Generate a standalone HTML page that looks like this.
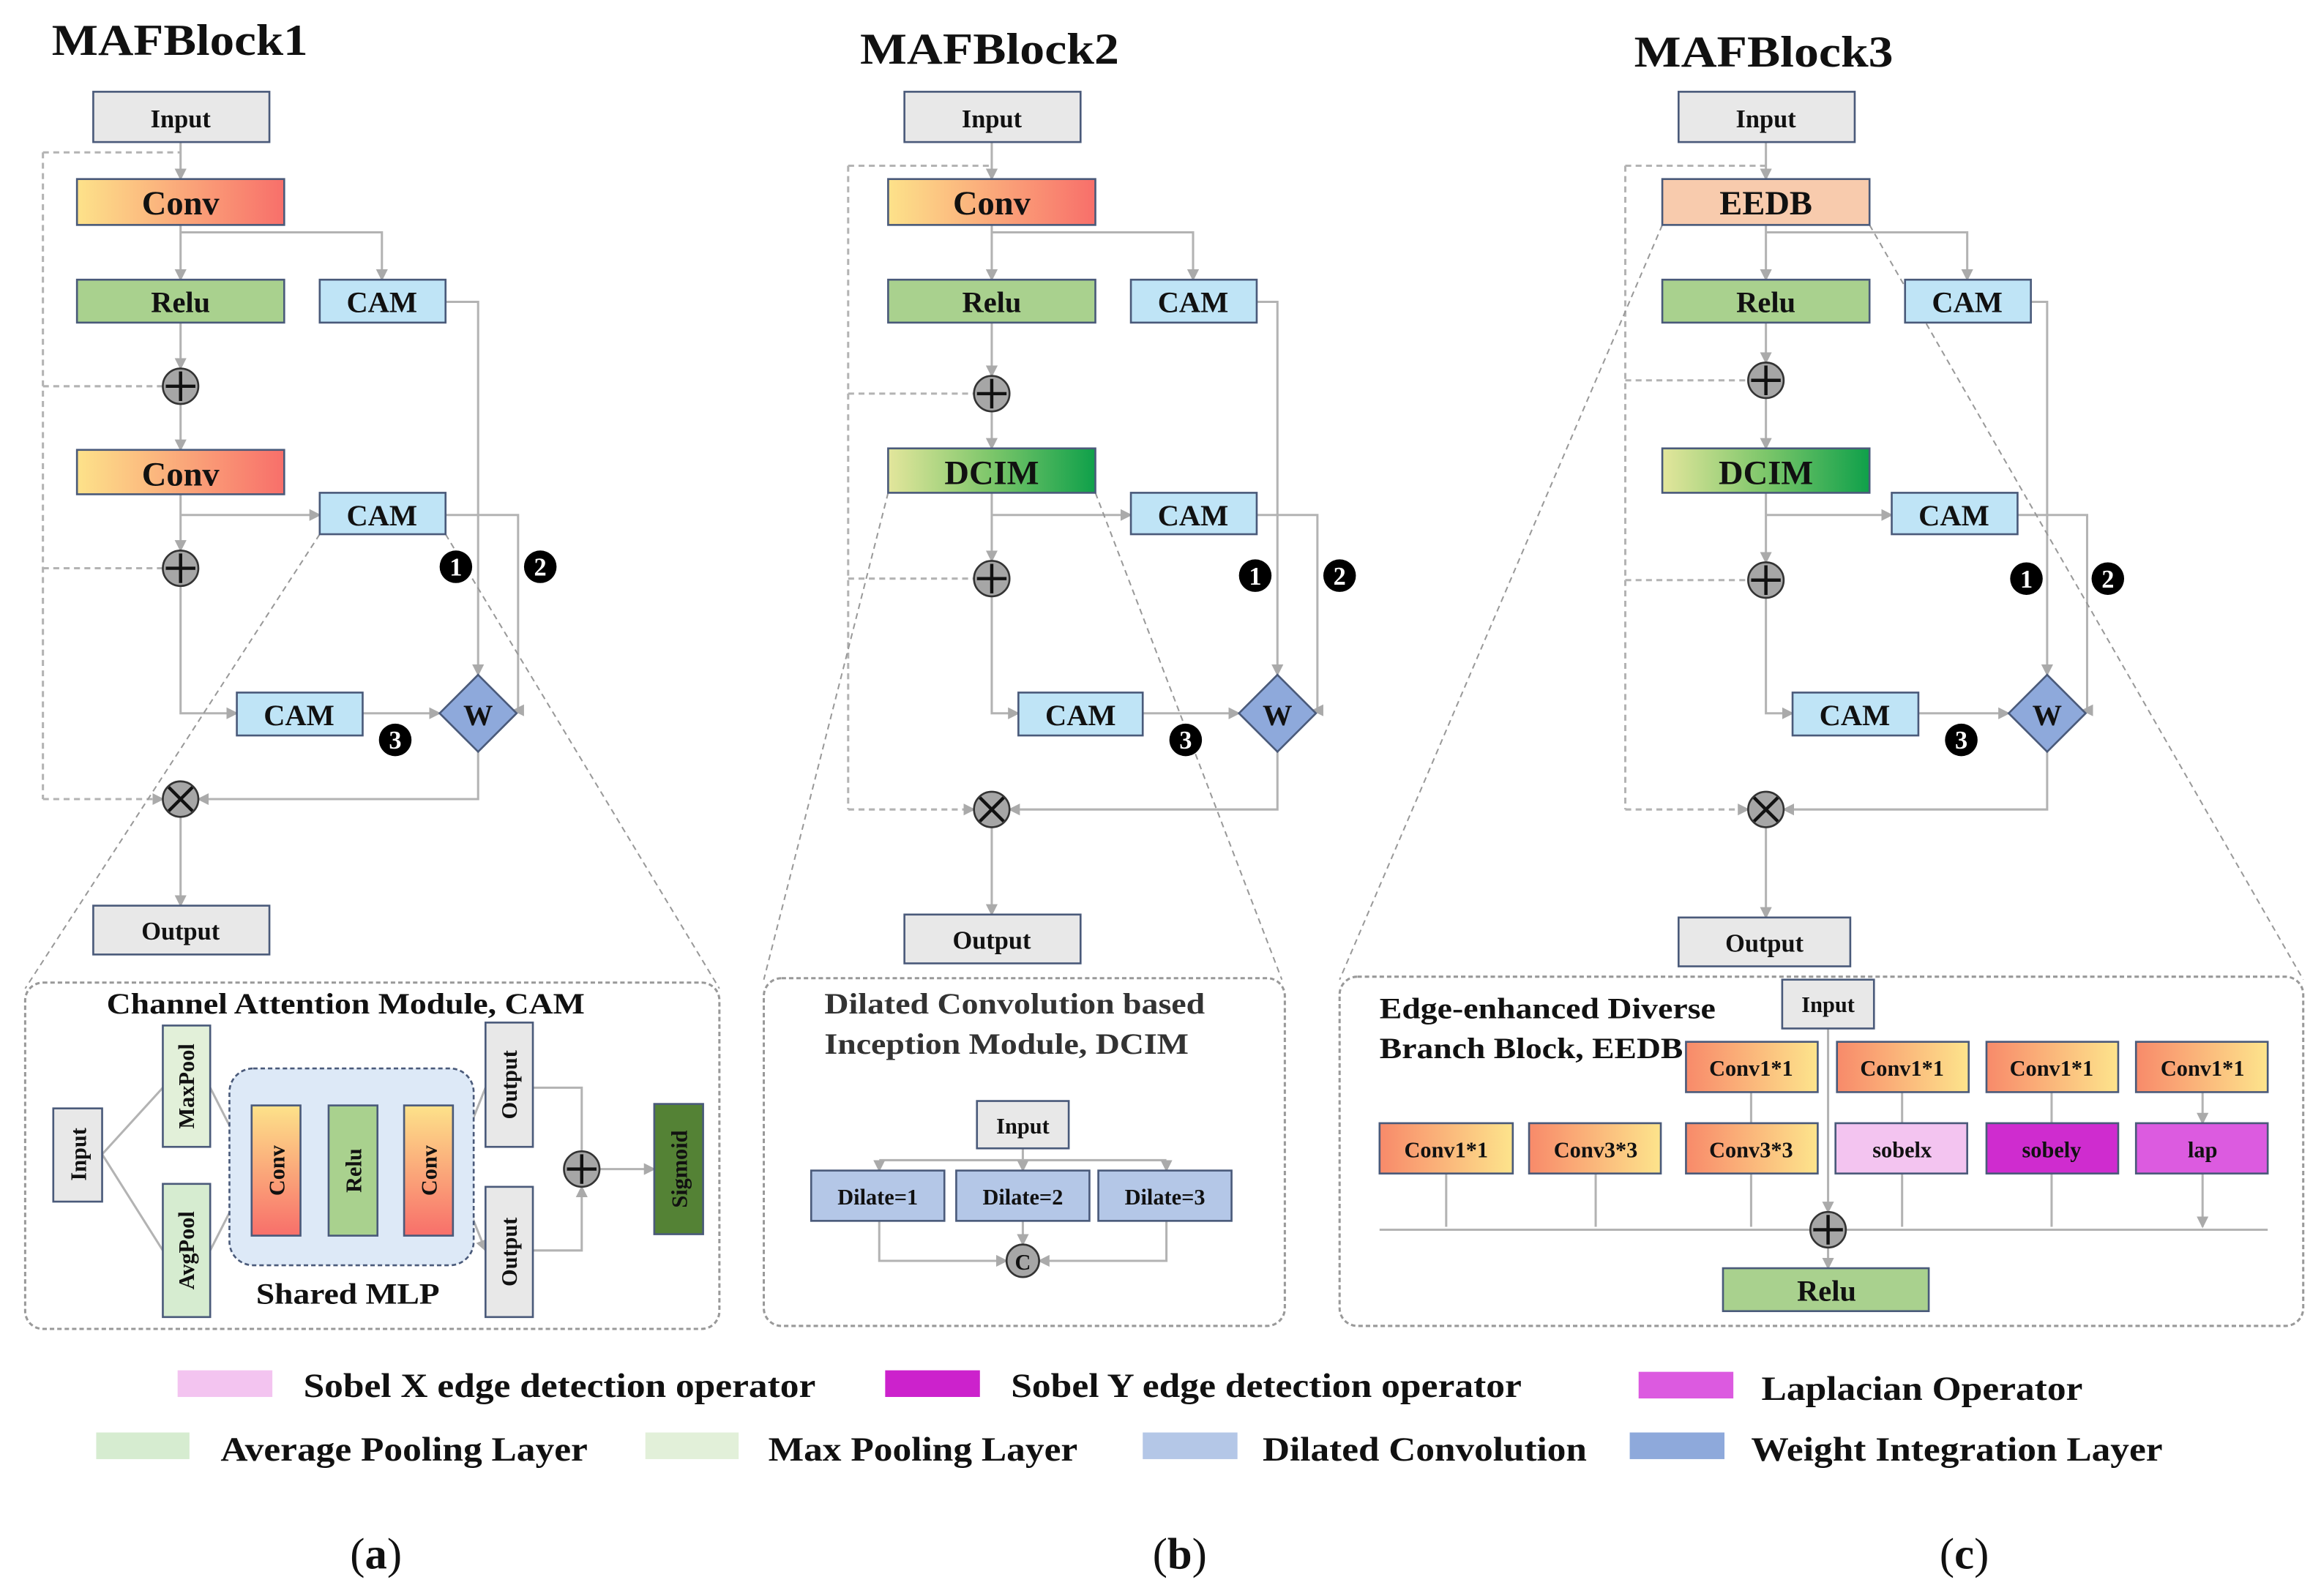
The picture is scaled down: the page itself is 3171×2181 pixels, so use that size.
<!DOCTYPE html>
<html><head><meta charset="utf-8"><style>html,body{margin:0;padding:0;background:#fff}svg{display:block}text{font-family:"Liberation Serif",serif;font-weight:bold;fill:#111}</style></head><body>
<svg width="3171" height="2181" viewBox="0 0 1568 1078.5" preserveAspectRatio="none" xmlns="http://www.w3.org/2000/svg">
<defs>
<linearGradient id="cv" x1="0" x2="1" y1="0" y2="0"><stop offset="0" stop-color="#fde28a"/><stop offset="1" stop-color="#f86f6a"/></linearGradient>
<linearGradient id="cvv" x1="0" x2="0" y1="0" y2="1"><stop offset="0" stop-color="#fde28a"/><stop offset="1" stop-color="#f86f6a"/></linearGradient>
<linearGradient id="cr" x1="0" x2="1" y1="0" y2="0"><stop offset="0" stop-color="#f88a6a"/><stop offset="1" stop-color="#fde48c"/></linearGradient>
<linearGradient id="dc" x1="0" x2="1" y1="0" y2="0"><stop offset="0" stop-color="#e3e69c"/><stop offset="0.5" stop-color="#7cc66a"/><stop offset="1" stop-color="#0fa04a"/></linearGradient>
<marker id="a" markerWidth="8" markerHeight="8" refX="7" refY="4" orient="auto" markerUnits="userSpaceOnUse"><path d="M0,0L8,4L0,8z" fill="#aaa"/></marker>
</defs>
<g fill="none" stroke="#b3b3b3" stroke-width="1.5">
<path d="M122,96V121" marker-end="url(#a)"/>
<path d="M29,103H122M29,103V540M29,261H110M29,384H110M29,540H110" stroke-dasharray="4,3" marker-end="url(#a)"/>
<path d="M122,152V189" marker-end="url(#a)"/><path d="M122,157H258V189" marker-end="url(#a)"/>
<path d="M122,218V249" marker-end="url(#a)"/><path d="M122,273V304" marker-end="url(#a)"/>
<path d="M122,334V372" marker-end="url(#a)"/><path d="M122,348H216" marker-end="url(#a)"/>
<path d="M122,396V482H160" marker-end="url(#a)"/><path d="M245,482H297" marker-end="url(#a)"/>
<path d="M301,204H323V456" marker-end="url(#a)"/><path d="M301,348H350V480L347,480" marker-end="url(#a)"/>
<path d="M323,508V540H134" marker-end="url(#a)"/><path d="M122,552V612" marker-end="url(#a)"/>
<path d="M670,96V121" marker-end="url(#a)"/>
<path d="M573,112H670M573,112V547M573,266H658M573,391H658M573,547H658" stroke-dasharray="4,3" marker-end="url(#a)"/>
<path d="M670,152V189" marker-end="url(#a)"/><path d="M670,157H806V189" marker-end="url(#a)"/>
<path d="M670,218V254" marker-end="url(#a)"/><path d="M670,278V303" marker-end="url(#a)"/>
<path d="M670,333V379" marker-end="url(#a)"/><path d="M670,348H764" marker-end="url(#a)"/>
<path d="M670,403V482H688" marker-end="url(#a)"/><path d="M772,482H837" marker-end="url(#a)"/>
<path d="M849,204H863V456" marker-end="url(#a)"/><path d="M849,348H890V480L887,480" marker-end="url(#a)"/>
<path d="M863,508V547H682" marker-end="url(#a)"/><path d="M670,559V618" marker-end="url(#a)"/>
<path d="M1193,96V121" marker-end="url(#a)"/>
<path d="M1098,112H1193M1098,112V547M1098,257H1181M1098,392H1181M1098,547H1181" stroke-dasharray="4,3" marker-end="url(#a)"/>
<path d="M1193,152V189" marker-end="url(#a)"/><path d="M1193,157H1329V189" marker-end="url(#a)"/>
<path d="M1193,218V245" marker-end="url(#a)"/><path d="M1193,269V303" marker-end="url(#a)"/>
<path d="M1193,333V380" marker-end="url(#a)"/><path d="M1193,348H1278" marker-end="url(#a)"/>
<path d="M1193,404V482H1211" marker-end="url(#a)"/><path d="M1296,482H1357" marker-end="url(#a)"/>
<path d="M1372,204H1383V456" marker-end="url(#a)"/><path d="M1363,348H1410V480L1407,480" marker-end="url(#a)"/>
<path d="M1383,508V547H1205" marker-end="url(#a)"/><path d="M1193,559V620" marker-end="url(#a)"/>
<path d="M216,361L17,668M301,361L486,668M600,333L516,662M740,333L866,662M1123,152L905,662M1263,152L1556,662" stroke="#999" stroke-width="1" stroke-dasharray="4,3"/>
<rect x="17" y="664" width="469" height="234" rx="12" stroke="#999" stroke-dasharray="3,2"/>
<rect x="516" y="661" width="352" height="235" rx="12" stroke="#999" stroke-dasharray="3,2"/>
<rect x="905" y="660" width="651" height="236" rx="12" stroke="#999" stroke-dasharray="3,2"/>
<path d="M69,780L110,735M69,780L110,845M142,735L170,790M142,845L170,790M203,790H222M255,790H273M306,790L328,735M306,790L328,845" marker-end="url(#a)"/>
<path d="M360,735H393V778M360,845H393V802" marker-end="url(#a)"/><path d="M405,790H442" marker-end="url(#a)"/>
<path d="M691,776V784M594,784H788"/><path d="M594,784V791" marker-end="url(#a)"/><path d="M788,784V791" marker-end="url(#a)"/><path d="M691,784V791" marker-end="url(#a)"/>
<path d="M691,825V841" marker-end="url(#a)"/><path d="M594,825V852H680" marker-end="url(#a)"/><path d="M788,825V852H702" marker-end="url(#a)"/>
<path d="M932,831H1532"/>
<path d="M1235,695V819" marker-end="url(#a)"/>
<path d="M1183,738V759M1285,738V759M1386,738V759M1488,738V759" marker-end="url(#a)"/>
<path d="M977,793V829M1078,793V829M1183,793V829M1285,793V829M1386,793V829M1488,793V829" marker-end="url(#a)"/>
<path d="M1235,843V857" marker-end="url(#a)"/>
</g>
<g stroke="#4a5a7a" stroke-width="1.3">
<rect x="63" y="62" width="119" height="34" fill="#e8e8e8"/>
<rect x="52" y="121" width="140" height="31" fill="url(#cv)"/>
<rect x="52" y="189" width="140" height="29" fill="#a9d18e"/>
<rect x="216" y="189" width="85" height="29" fill="#bfe4f6"/>
<rect x="52" y="304" width="140" height="30" fill="url(#cv)"/>
<rect x="216" y="333" width="85" height="28" fill="#bfe4f6"/>
<rect x="160" y="468" width="85" height="29" fill="#bfe4f6"/>
<rect x="63" y="612" width="119" height="33" fill="#e8e8e8"/>
<rect x="611" y="62" width="119" height="34" fill="#e8e8e8"/>
<rect x="600" y="121" width="140" height="31" fill="url(#cv)"/>
<rect x="600" y="189" width="140" height="29" fill="#a9d18e"/>
<rect x="764" y="189" width="85" height="29" fill="#bfe4f6"/>
<rect x="600" y="303" width="140" height="30" fill="url(#dc)"/>
<rect x="764" y="333" width="85" height="28" fill="#bfe4f6"/>
<rect x="688" y="468" width="84" height="29" fill="#bfe4f6"/>
<rect x="611" y="618" width="119" height="33" fill="#e8e8e8"/>
<rect x="1134" y="62" width="119" height="34" fill="#e8e8e8"/>
<rect x="1123" y="121" width="140" height="31" fill="#f8cbad"/>
<rect x="1123" y="189" width="140" height="29" fill="#a9d18e"/>
<rect x="1287" y="189" width="85" height="29" fill="#bfe4f6"/>
<rect x="1123" y="303" width="140" height="30" fill="url(#dc)"/>
<rect x="1278" y="333" width="85" height="28" fill="#bfe4f6"/>
<rect x="1211" y="468" width="85" height="29" fill="#bfe4f6"/>
<rect x="1134" y="620" width="116" height="33" fill="#e8e8e8"/>
<path d="M323,456L349,482L323,508L297,482z" fill="#8ea9db"/>
<path d="M863,456L889,482L863,508L837,482z" fill="#8ea9db"/>
<path d="M1383,456L1409,482L1383,508L1357,482z" fill="#8ea9db"/>
<rect x="36" y="749" width="33" height="63" fill="#e8e8e8"/>
<rect x="110" y="693" width="32" height="82" fill="#e2f0d9"/>
<rect x="110" y="800" width="32" height="90" fill="#d6ecd0"/>
<rect x="155" y="722" width="165" height="133" rx="16" fill="#dde9f7" stroke-dasharray="3,2"/>
<rect x="170" y="747" width="33" height="88" fill="url(#cvv)"/>
<rect x="222" y="747" width="33" height="88" fill="#a9d18e"/>
<rect x="273" y="747" width="33" height="88" fill="url(#cvv)"/>
<rect x="328" y="691" width="32" height="84" fill="#e8e8e8"/>
<rect x="328" y="802" width="32" height="88" fill="#e8e8e8"/>
<rect x="442" y="746" width="33" height="88" fill="#548235"/>
<rect x="660" y="744" width="62" height="32" fill="#e8e8e8"/>
<rect x="548" y="791" width="90" height="34" fill="#b4c7e7"/>
<rect x="646" y="791" width="90" height="34" fill="#b4c7e7"/>
<rect x="742" y="791" width="90" height="34" fill="#b4c7e7"/>
<rect x="1204" y="662" width="62" height="33" fill="#e8e8e8"/>
<rect x="1139" y="704" width="89" height="34" fill="url(#cr)"/>
<rect x="1241" y="704" width="89" height="34" fill="url(#cr)"/>
<rect x="1342" y="704" width="89" height="34" fill="url(#cr)"/>
<rect x="1443" y="704" width="89" height="34" fill="url(#cr)"/>
<rect x="932" y="759" width="90" height="34" fill="url(#cr)"/>
<rect x="1033" y="759" width="89" height="34" fill="url(#cr)"/>
<rect x="1139" y="759" width="89" height="34" fill="url(#cr)"/>
<rect x="1240" y="759" width="89" height="34" fill="#f3c4f0"/>
<rect x="1342" y="759" width="89" height="34" fill="#cf2ccf"/>
<rect x="1443" y="759" width="89" height="34" fill="#dc5be0"/>
<rect x="1164" y="857" width="139" height="29" fill="#a9d18e"/>
</g>
<g stroke="#333" stroke-width="1.3" fill="#a6a6a6">
<circle cx="122" cy="261" r="12"/><circle cx="122" cy="384" r="12"/><circle cx="122" cy="540" r="12"/>
<circle cx="670" cy="266" r="12"/><circle cx="670" cy="391" r="12"/><circle cx="670" cy="547" r="12"/>
<circle cx="1193" cy="257" r="12"/><circle cx="1193" cy="392" r="12"/><circle cx="1193" cy="547" r="12"/>
<circle cx="393" cy="790" r="12"/><circle cx="691" cy="852" r="11"/><circle cx="1235" cy="831" r="12"/>
</g>
<g stroke="#111" stroke-width="2.2">
<path d="M112,261H132M122,251V271M112,384H132M122,374V394M114,532L130,548M130,532L114,548"/>
<path d="M660,266H680M670,256V276M660,391H680M670,381V401M662,539L678,555M678,539L662,555"/>
<path d="M1183,257H1203M1193,247V267M1183,392H1203M1193,382V402M1185,539L1201,555M1201,539L1185,555"/>
<path d="M383,790H403M393,780V800M1225,831H1245M1235,821V841"/>
</g>
<text x="691" y="858" font-size="15" text-anchor="middle">C</text>
<g font-size="30">
<text x="35" y="37" textLength="173" lengthAdjust="spacingAndGlyphs">MAFBlock1</text>
<text x="581" y="43" textLength="175" lengthAdjust="spacingAndGlyphs">MAFBlock2</text>
<text x="1104" y="45" textLength="175" lengthAdjust="spacingAndGlyphs">MAFBlock3</text>
</g>
<g font-size="17" text-anchor="middle">
<text x="122" y="86">Input</text><text x="670" y="86">Input</text><text x="1193" y="86">Input</text>
<text x="122" y="635">Output</text><text x="670" y="641">Output</text><text x="1192" y="643">Output</text>
</g>
<g font-size="23" text-anchor="middle">
<text x="122" y="145">Conv</text><text x="122" y="328">Conv</text><text x="670" y="145">Conv</text>
<text x="1193" y="145">EEDB</text><text x="670" y="327">DCIM</text><text x="1193" y="327">DCIM</text>
</g>
<g font-size="20" text-anchor="middle">
<text x="122" y="211">Relu</text><text x="670" y="211">Relu</text><text x="1193" y="211">Relu</text>
<text x="258" y="211">CAM</text><text x="258" y="355">CAM</text><text x="202" y="490">CAM</text>
<text x="806" y="211">CAM</text><text x="806" y="355">CAM</text><text x="730" y="490">CAM</text>
<text x="1329" y="211">CAM</text><text x="1320" y="355">CAM</text><text x="1253" y="490">CAM</text>
<text x="323" y="490">W</text><text x="863" y="490">W</text><text x="1383" y="490">W</text>
<text x="1234" y="879">Relu</text>
</g>
<g fill="#000">
<circle cx="308" cy="383" r="11"/><circle cx="365" cy="383" r="11"/><circle cx="267" cy="500" r="11"/>
<circle cx="848" cy="389" r="11"/><circle cx="905" cy="389" r="11"/><circle cx="801" cy="500" r="11"/>
<circle cx="1369" cy="391" r="11"/><circle cx="1424" cy="391" r="11"/><circle cx="1325" cy="500" r="11"/>
</g>
<g font-size="17" text-anchor="middle" style="fill:#fff">
<text x="308" y="389" style="fill:#fff">1</text><text x="365" y="389" style="fill:#fff">2</text><text x="267" y="506" style="fill:#fff">3</text>
<text x="848" y="395" style="fill:#fff">1</text><text x="905" y="395" style="fill:#fff">2</text><text x="801" y="506" style="fill:#fff">3</text>
<text x="1369" y="397" style="fill:#fff">1</text><text x="1424" y="397" style="fill:#fff">2</text><text x="1325" y="506" style="fill:#fff">3</text>
</g>
<text x="72" y="685" font-size="20" textLength="323" lengthAdjust="spacingAndGlyphs">Channel Attention Module, CAM</text>
<text x="173" y="881" font-size="20" textLength="124" lengthAdjust="spacingAndGlyphs">Shared MLP</text>
<g font-size="15" text-anchor="middle">
<text transform="translate(58,780) rotate(-90)">Input</text>
<text transform="translate(131,734) rotate(-90)">MaxPool</text>
<text transform="translate(131,845) rotate(-90)">AvgPool</text>
<text transform="translate(192,791) rotate(-90)">Conv</text>
<text transform="translate(244,791) rotate(-90)">Relu</text>
<text transform="translate(295,791) rotate(-90)">Conv</text>
<text transform="translate(349,733) rotate(-90)">Output</text>
<text transform="translate(349,846) rotate(-90)">Output</text>
<text transform="translate(464,790) rotate(-90)">Sigmoid</text>
</g>
<g font-size="20">
<text x="557" y="685" style="fill:#333" textLength="257" lengthAdjust="spacingAndGlyphs">Dilated Convolution based</text>
<text x="557" y="712" style="fill:#333" textLength="246" lengthAdjust="spacingAndGlyphs">Inception Module, DCIM</text>
</g>
<g font-size="15" text-anchor="middle">
<text x="691" y="766">Input</text>
<text x="593" y="814">Dilate=1</text><text x="691" y="814">Dilate=2</text><text x="787" y="814">Dilate=3</text>
</g>
<g font-size="20">
<text x="932" y="688" textLength="227" lengthAdjust="spacingAndGlyphs">Edge-enhanced Diverse</text>
<text x="932" y="715" textLength="205" lengthAdjust="spacingAndGlyphs">Branch Block, EEDB</text>
</g>
<g font-size="15" text-anchor="middle">
<text x="1235" y="684">Input</text>
<text x="1183" y="727">Conv1*1</text><text x="1285" y="727">Conv1*1</text><text x="1386" y="727">Conv1*1</text><text x="1488" y="727">Conv1*1</text>
<text x="977" y="782">Conv1*1</text><text x="1078" y="782">Conv3*3</text><text x="1183" y="782">Conv3*3</text>
<text x="1285" y="782">sobelx</text><text x="1386" y="782">sobely</text><text x="1488" y="782">lap</text>
</g>
<rect x="120" y="926" width="64" height="18" fill="#f3c4f0"/>
<rect x="598" y="926" width="64" height="18" fill="#cc22cc"/>
<rect x="1107" y="927" width="64" height="18" fill="#dc5ae0"/>
<rect x="65" y="968" width="63" height="18" fill="#d6ecd0"/>
<rect x="436" y="968" width="63" height="18" fill="#e2f0d9"/>
<rect x="772" y="968" width="64" height="18" fill="#b4c7e7"/>
<rect x="1101" y="968" width="64" height="18" fill="#8ea9db"/>
<g font-size="23">
<text x="205" y="944" textLength="346" lengthAdjust="spacingAndGlyphs">Sobel X edge detection operator</text>
<text x="683" y="944" textLength="345" lengthAdjust="spacingAndGlyphs">Sobel Y edge detection operator</text>
<text x="1190" y="946" textLength="217" lengthAdjust="spacingAndGlyphs">Laplacian Operator</text>
<text x="149" y="987" textLength="248" lengthAdjust="spacingAndGlyphs">Average Pooling Layer</text>
<text x="519" y="987" textLength="209" lengthAdjust="spacingAndGlyphs">Max Pooling Layer</text>
<text x="853" y="987" textLength="219" lengthAdjust="spacingAndGlyphs">Dilated Convolution</text>
<text x="1183" y="987" textLength="278" lengthAdjust="spacingAndGlyphs">Weight Integration Layer</text>
</g>
<g font-size="30" text-anchor="middle">
<text x="254" y="1060" style="font-weight:normal">(<tspan style="font-weight:bold">a</tspan>)</text>
<text x="797" y="1060" style="font-weight:normal">(<tspan style="font-weight:bold">b</tspan>)</text>
<text x="1327" y="1060" style="font-weight:normal">(<tspan style="font-weight:bold">c</tspan>)</text>
</g>
</svg>
</body></html>
